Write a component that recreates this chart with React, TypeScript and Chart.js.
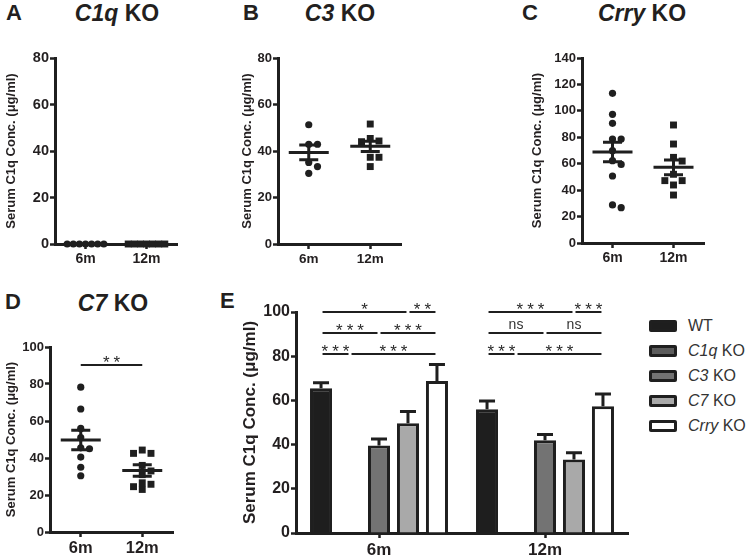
import React, { useEffect, useRef } from 'react';
import { Chart, registerables } from 'chart.js';
Chart.register(...registerables);

const FONT = "'Liberation Sans', Arial, Helvetica, sans-serif";
const INK = '#1f1f1f';
const TEXT = '#231f20';
const Y_TITLE = 'Serum C1q Conc. (μg/ml)';

// ---- shared categories ----
const GROUPS = ['6m', '12m'];

// ---- Panel A: C1q KO ----
const A_6M = [0, 0, 0, 0, 0, 0, 0];
const A_12M = [0, 0, 0, 0, 0, 0, 0];
const A_MEAN = [0, 0];
const A_SEM = [0, 0];

// ---- Panel B: C3 KO ----
const B_6M = [51.3, 42.9, 42.9, 35.1, 33.3, 30.4];
const B_12M = [51.6, 45.4, 44.3, 44.0, 37.3, 37.3, 33.3];
const B_MEAN = [39.4, 42.0];
const B_SEM = [3.2, 2.2];

// ---- Panel C: Crry KO ----
const C_6M = [113.3, 97.4, 90.6, 78.7, 78.7, 69.9, 62.3, 59.5, 50.7, 28.8, 26.7];
const C_12M = [89.3, 74.9, 64.8, 62.0, 52.0, 47.2, 47.2, 43.9, 36.3];
const C_MEAN = [68.8, 57.3];
const C_SEM = [7.4, 5.6];

// ---- Panel D: C7 KO ----
const D_6M = [78.3, 66.5, 56.0, 51.0, 45.5, 45.0, 40.5, 35.0, 30.4];
const D_12M = [44.3, 42.5, 42.5, 36.0, 33.0, 31.0, 26.6, 25.8, 24.5, 23.0];
const D_MEAN = [49.7, 33.3];
const D_SEM = [5.3, 3.1];
const D_SIG = [{ from: 0, to: 1, level: 90.3, label: '**' }];

// ---- Panel E: all genotypes ----
const E_SERIES = ['WT', 'C1q KO', 'C3 KO', 'C7 KO', 'Crry KO'];
const E_COLORS = ['#1e1e1e', '#5c5c5c', '#737373', '#a9a9a9', '#ffffff'];
const E_WT = [65.5, 56.0];
const E_C1Q = [0, 0];
const E_C3 = [39.6, 42.0];
const E_C7 = [49.7, 33.3];
const E_CRRY = [68.8, 57.3];
const E_WT_ERR = [2.5, 3.7];
const E_C1Q_ERR = [0, 0];
const E_C3_ERR = [2.9, 2.6];
const E_C7_ERR = [5.3, 3.0];
const E_CRRY_ERR = [7.4, 5.6];
const E_SIG = [
  { group: 0, from: 0, to: 3, level: 100, label: '*' },
  { group: 0, from: 3, to: 4, level: 100, label: '**' },
  { group: 0, from: 0, to: 2, level: 90.5, label: '***' },
  { group: 0, from: 2, to: 4, level: 90.5, label: '***' },
  { group: 0, from: 0, to: 1, level: 81, label: '***' },
  { group: 0, from: 1, to: 4, level: 81, label: '***' },
  { group: 1, from: 0, to: 3, level: 100, label: '***' },
  { group: 1, from: 3, to: 4, level: 100, label: '***' },
  { group: 1, from: 0, to: 2, level: 90.5, label: 'ns' },
  { group: 1, from: 2, to: 4, level: 90.5, label: 'ns' },
  { group: 1, from: 0, to: 1, level: 81, label: '***' },
  { group: 1, from: 1, to: 4, level: 81, label: '***' },
];

// simple beeswarm: spreads overlapping points sideways
function swarm(values: number[], center: number, step: number, thr: number) {
  const order = values.map((_, i) => i).sort((a, b) => values[b] - values[a]);
  const placed: { x: number; y: number }[] = [];
  const out: { x: number; y: number }[] = new Array(values.length);
  const cands = [0, 1, -1, 2, -2, 3, -3, 4, -4];
  for (const i of order) {
    const v = values[i];
    for (const c of cands) {
      const x = center + c * step;
      if (!placed.some((p) => Math.abs(p.x - x) < step * 0.5 && Math.abs(p.y - v) < thr)) {
        placed.push({ x, y: v });
        out[i] = { x, y: v };
        break;
      }
    }
  }
  return out;
}

function drawSig(ctx: CanvasRenderingContext2D, x1: number, x2: number, y: number, label: string) {
  ctx.save();
  ctx.strokeStyle = INK;
  ctx.lineWidth = 2;
  ctx.beginPath();
  ctx.moveTo(x1, y);
  ctx.lineTo(x2, y);
  ctx.stroke();
  ctx.fillStyle = '#2a2a2a';
  ctx.textAlign = 'center';
  ctx.textBaseline = 'alphabetic';
  if (label.includes('*')) {
    ctx.font = `17px ${FONT}`;
    (ctx as any).letterSpacing = '4px';
    ctx.fillText(label, (x1 + x2) / 2 + 2, y + 3);
    (ctx as any).letterSpacing = '0px';
  } else {
    ctx.font = `14px ${FONT}`;
    ctx.fillStyle = '#333';
    ctx.fillText(label, (x1 + x2) / 2, y - 4);
  }
  ctx.restore();
}

type DotPanel = {
  left: number; top: number; bottom: number;
  axisLeft: number; axisRight: number; axisTop: number; axisBottom: number;
  yMax: number; yStep: number; yTick: number; xTick: number; spread: number;
  groups: number[][]; mean: number[]; sem: number[];
  sig?: { from: number; to: number; level: number; label: string }[];
};

function axisCommon() {
  return {
    grid: { drawOnChartArea: false, drawTicks: true, tickLength: 5, tickWidth: 2.5, tickColor: INK, color: INK },
    border: { display: true, width: 3, color: INK },
  };
}

function dotSetup(p: DotPanel) {
  const width = p.axisRight + 16 - p.left;
  const height = p.bottom - p.top;
  const meanPlugin = {
    id: 'meanSem',
    afterDatasetsDraw(chart: any) {
      const { ctx } = chart;
      const xs = chart.scales.x;
      const ys = chart.scales.y;
      ctx.save();
      ctx.strokeStyle = INK;
      ctx.lineWidth = 3;
      p.mean.forEach((m, i) => {
        const cx = xs.getPixelForValue(i + 1);
        const ym = ys.getPixelForValue(m);
        ctx.beginPath();
        ctx.moveTo(cx - 20, ym);
        ctx.lineTo(cx + 20, ym);
        ctx.stroke();
        if (p.sem[i] > 0) {
          const yt = ys.getPixelForValue(m + p.sem[i]);
          const yb = ys.getPixelForValue(m - p.sem[i]);
          ctx.beginPath();
          ctx.moveTo(cx, yt);
          ctx.lineTo(cx, yb);
          ctx.moveTo(cx - 9.5, yt);
          ctx.lineTo(cx + 9.5, yt);
          ctx.moveTo(cx - 9.5, yb);
          ctx.lineTo(cx + 9.5, yb);
          ctx.stroke();
        }
      });
      ctx.restore();
      (p.sig || []).forEach((s) => {
        drawSig(ctx, xs.getPixelForValue(s.from + 1), xs.getPixelForValue(s.to + 1), ys.getPixelForValue(s.level), s.label);
      });
    },
  };
  const config: any = {
    type: 'scatter',
    data: {
      datasets: p.groups.map((vals, gi) => ({
        data: swarm(vals, gi + 1, p.spread, p.yMax * 0.036),
        pointStyle: gi === 0 ? 'circle' : 'rect',
        pointRadius: gi === 0 ? 3.6 : 4.9,
        backgroundColor: INK,
        borderColor: INK,
        borderWidth: 0,
        clip: false,
      })),
    },
    options: {
      animation: false,
      responsive: false,
      layout: { padding: { left: 0, right: width - (p.axisRight - p.left), top: p.axisTop - p.top, bottom: 0 } },
      plugins: { legend: { display: false }, tooltip: { enabled: false }, title: { display: false } },
      scales: {
        x: {
          type: 'linear', min: 0.5, max: 2.5,
          afterBuildTicks: (s: any) => { s.ticks = [{ value: 1 }, { value: 2 }]; },
          afterFit: (s: any) => { s.height = p.bottom - p.axisBottom; },
          ticks: {
            callback: (v: number) => GROUPS[Math.round(v) - 1],
            font: { family: FONT, size: p.xTick, weight: 'bold' }, color: TEXT, padding: 2,
            autoSkip: false, maxRotation: 0,
          },
          ...axisCommon(),
        },
        y: {
          min: 0, max: p.yMax,
          afterFit: (s: any) => { s.width = p.axisLeft - p.left; },
          ticks: { stepSize: p.yStep, font: { family: FONT, size: p.yTick, weight: 'bold' }, color: TEXT, padding: 1 },
          title: { display: true, text: Y_TITLE, font: { family: FONT, size: 13, weight: 'bold' }, color: TEXT, padding: { top: 4, bottom: 4 } },
          ...axisCommon(),
        },
      },
    },
    plugins: [meanPlugin],
  };
  return { width, height, config };
}

function eSetup() {
  const left = 236, top = 292, bottom = 556;
  const axisLeft = 296, axisRight = 628, axisTop = 312, axisBottom = 533;
  const width = axisRight + 8 - left;
  const height = bottom - top;
  const values = [E_WT, E_C1Q, E_C3, E_C7, E_CRRY];
  const errs = [E_WT_ERR, E_C1Q_ERR, E_C3_ERR, E_C7_ERR, E_CRRY_ERR];
  const plugin = {
    id: 'errSig',
    afterDatasetsDraw(chart: any) {
      const { ctx } = chart;
      const ys = chart.scales.y;
      ctx.save();
      ctx.strokeStyle = INK;
      ctx.lineWidth = 3;
      values.forEach((vals, di) => {
        const meta = chart.getDatasetMeta(di);
        vals.forEach((v, j) => {
          if (!(v > 0) || !(errs[di][j] > 0)) return;
          const el = meta.data[j];
          const yTop = ys.getPixelForValue(v);
          const yErr = ys.getPixelForValue(v + errs[di][j]);
          ctx.beginPath();
          ctx.moveTo(el.x, yTop);
          ctx.lineTo(el.x, yErr);
          ctx.moveTo(el.x - 8, yErr);
          ctx.lineTo(el.x + 8, yErr);
          ctx.stroke();
        });
      });
      ctx.restore();
      E_SIG.forEach((s) => {
        const x1 = chart.getDatasetMeta(s.from).data[s.group].x + 1.5;
        const x2 = chart.getDatasetMeta(s.to).data[s.group].x - 1.5;
        drawSig(ctx, x1, x2, ys.getPixelForValue(s.level), s.label);
      });
    },
  };
  const config: any = {
    type: 'bar',
    data: {
      labels: GROUPS,
      datasets: E_SERIES.map((name, i) => ({
        label: name,
        data: values[i],
        backgroundColor: E_COLORS[i],
        borderColor: INK,
        borderWidth: (c: any) => (c.raw > 0 ? 3 : 0),
        borderSkipped: 'start',
        categoryPercentage: 0.873,
        barPercentage: 0.76,
      })),
    },
    options: {
      animation: false,
      responsive: false,
      layout: { padding: { left: 0, right: width - (axisRight - left), top: axisTop - top, bottom: 0 } },
      plugins: { legend: { display: false }, tooltip: { enabled: false } },
      scales: {
        x: {
          afterFit: (s: any) => { s.height = bottom - axisBottom; },
          ticks: { font: { family: FONT, size: 17, weight: 'bold' }, color: TEXT, padding: 2 },
          ...axisCommon(),
          grid: { ...axisCommon().grid, offset: false },
        },
        y: {
          min: 0, max: 100,
          afterFit: (s: any) => { s.width = axisLeft - left; },
          ticks: { stepSize: 20, font: { family: FONT, size: 16, weight: 'bold' }, color: TEXT, padding: 1 },
          title: { display: true, text: Y_TITLE, font: { family: FONT, size: 17, weight: 'bold' }, color: TEXT, padding: { top: 4, bottom: 4 } },
          ...axisCommon(),
        },
      },
    },
    plugins: [plugin],
  };
  return { left, top, width, height, config };
}

function ChartBox({ left, top, setup }: { left: number; top: number; setup: { width: number; height: number; config: any } }) {
  const ref = useRef<HTMLCanvasElement>(null);
  useEffect(() => {
    const chart = new Chart(ref.current as HTMLCanvasElement, setup.config);
    return () => chart.destroy();
  }, []);
  return (
    <canvas
      ref={ref}
      width={setup.width}
      height={setup.height}
      style={{ position: 'absolute', left, top, width: setup.width, height: setup.height }}
    />
  );
}

function GeneLabel({ text }: { text: string }) {
  if (text.endsWith(' KO')) {
    return (<><i>{text.slice(0, -3)}</i>{' KO'}</>);
  }
  return <>{text}</>;
}

function Heading({ text, cx, cy, size }: { text: string; cx: number; cy: number; size: number }) {
  return (
    <div style={{ position: 'absolute', left: cx, top: cy - 0.49 * size, transform: 'translateX(-50%)', font: `bold ${size}px ${FONT}`, lineHeight: 1, whiteSpace: 'nowrap', color: TEXT }}>
      <GeneLabel text={text} />
    </div>
  );
}

function Letter({ text, x, cy }: { text: string; x: number; cy: number }) {
  return (
    <div style={{ position: 'absolute', left: x, top: cy - 0.49 * 22, font: `bold 22px ${FONT}`, lineHeight: 1, color: TEXT }}>{text}</div>
  );
}

const panelA: DotPanel = { left: 0, top: 30, bottom: 280, axisLeft: 55, axisRight: 177, axisTop: 58, axisBottom: 244, yMax: 80, yStep: 20, yTick: 14.5, xTick: 14, spread: 0.1, groups: [A_6M, A_12M], mean: A_MEAN, sem: A_SEM };
const panelB: DotPanel = { left: 236, top: 30, bottom: 280, axisLeft: 278, axisRight: 401, axisTop: 58, axisBottom: 244, yMax: 80, yStep: 20, yTick: 13, xTick: 13.5, spread: 0.142, groups: [B_6M, B_12M], mean: B_MEAN, sem: B_SEM };
const panelC: DotPanel = { left: 526, top: 30, bottom: 280, axisLeft: 582, axisRight: 704, axisTop: 58, axisBottom: 243, yMax: 140, yStep: 20, yTick: 13, xTick: 14, spread: 0.142, groups: [C_6M, C_12M], mean: C_MEAN, sem: C_SEM };
const panelD: DotPanel = { left: 0, top: 320, bottom: 556, axisLeft: 50, axisRight: 173, axisTop: 347, axisBottom: 532, yMax: 100, yStep: 20, yTick: 13, xTick: 16.5, spread: 0.142, groups: [D_6M, D_12M], mean: D_MEAN, sem: D_SEM, sig: D_SIG };

export default function App() {
  const a = dotSetup(panelA);
  const b = dotSetup(panelB);
  const c = dotSetup(panelC);
  const d = dotSetup(panelD);
  const e = eSetup();
  return (
    <div style={{ position: 'absolute', left: 0, top: 0, width: 752, height: 556, background: '#fff', overflow: 'hidden' }}>
      <ChartBox left={panelA.left} top={panelA.top} setup={a} />
      <ChartBox left={panelB.left} top={panelB.top} setup={b} />
      <ChartBox left={panelC.left} top={panelC.top} setup={c} />
      <ChartBox left={panelD.left} top={panelD.top} setup={d} />
      <ChartBox left={e.left} top={e.top} setup={e} />

      <Letter text="A" x={6} cy={13} />
      <Letter text="B" x={243} cy={13} />
      <Letter text="C" x={522} cy={13} />
      <Letter text="D" x={5} cy={302} />
      <Letter text="E" x={220} cy={301} />
      <Heading text="C1q KO" cx={117} cy={13} size={23} />
      <Heading text="C3 KO" cx={340} cy={13} size={23} />
      <Heading text="Crry KO" cx={642} cy={13} size={23} />
      <Heading text="C7 KO" cx={113} cy={303} size={23} />

      {E_SERIES.map((name, i) => (
        <React.Fragment key={name}>
          <div style={{ position: 'absolute', left: 649, top: 325.5 + 25 * i - 6, width: 28, height: 12, boxSizing: 'border-box', border: `3px solid ${INK}`, borderRadius: 2, background: E_COLORS[i] }} />
          <div style={{ position: 'absolute', left: 688, top: 325.5 + 25 * i - 9, font: `16px ${FONT}`, lineHeight: '18px', color: '#333', whiteSpace: 'nowrap' }}>
            <GeneLabel text={name} />
          </div>
        </React.Fragment>
      ))}
    </div>
  );
}
